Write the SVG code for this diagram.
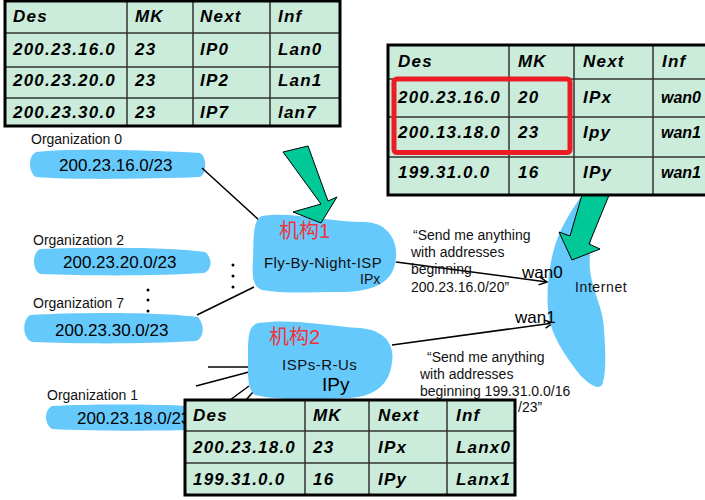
<svg xmlns="http://www.w3.org/2000/svg" width="705" height="500" viewBox="0 0 705 500">
<style>
.blob{fill:#66c9fb;stroke:none}
.cell{fill:#cbecda;stroke:none}
.grid{stroke:#333;stroke-width:1.5;fill:none}
.frame{fill:none;stroke:#000;stroke-width:3}
.tt{font-family:"Liberation Sans",Arial,sans-serif;font-weight:bold;font-style:italic;font-size:17px;letter-spacing:1.2px;fill:#000}
.tn{letter-spacing:0;font-size:16px}
.lbl{font-family:"Liberation Sans",Arial,sans-serif;font-size:14px;fill:#111}
.net{font-family:"Liberation Sans",Arial,sans-serif;font-size:17px;fill:#000}
.cn{font-family:"Liberation Sans","Noto Sans CJK SC",sans-serif;font-size:20px;fill:#f0333a}
.ln{stroke:#000;stroke-width:1.5;fill:none}
.green{fill:#00c896;stroke:#000;stroke-width:1}
</style>
<defs>
<marker id="open" markerWidth="10" markerHeight="10" refX="9" refY="5" orient="auto" markerUnits="userSpaceOnUse">
<path d="M1,1 L9,5 L1,9" fill="none" stroke="#000" stroke-width="1.5"/>
</marker>
</defs>

<g id="org0">
<path class="blob" d="M36,152 C70,148 150,150 200,153 C207,157 207,173 200,177 C150,179 70,180 36,177 C28,172 28,156 36,152 Z"/>
<text class="lbl" x="31" y="144">Organization 0</text>
<text class="net" x="59" y="171">200.23.16.0/23</text>
</g>
<g id="org2">
<path class="blob" d="M40,249 C90,247 170,247 205,252 C213,258 212,270 204,273 C160,276 90,276 40,274 C32,270 32,253 40,249 Z"/>
<text class="lbl" x="33" y="245">Organization 2</text>
<text class="net" x="63" y="268">200.23.20.0/23</text>
</g>
<g id="org7">
<path class="blob" d="M30,315 C80,312 160,312 198,317 C205,325 204,338 196,341 C150,344 80,344 32,342 C22,338 22,320 30,315 Z"/>
<text class="lbl" x="33" y="308">Organization 7</text>
<text class="net" x="55" y="336">200.23.30.0/23</text>
</g>
<g id="org1">
<path class="blob" d="M52,406 C90,404 150,404 190,406 L190,430 C150,431 90,431 52,429 C44,424 44,410 52,406 Z"/>
<text class="lbl" x="47" y="400">Organization 1</text>
<text class="net" x="77" y="424">200.23.18.0/23</text>
</g>

<g id="dots">
<circle cx="148" cy="290" r="1.5"/><circle cx="148" cy="300" r="1.5"/><circle cx="148" cy="311" r="1.5"/>
<circle cx="233" cy="265" r="1.5"/><circle cx="233" cy="276" r="1.5"/><circle cx="233" cy="287" r="1.5"/>
</g>

<g id="connectors">
<line class="ln" x1="202" y1="168" x2="260" y2="221"/>
<line class="ln" x1="197" y1="315" x2="254" y2="287"/>
<line class="ln" x1="208" y1="367" x2="248" y2="367"/>
<line class="ln" x1="196" y1="386" x2="249" y2="372"/>
<line class="ln" x1="230" y1="400" x2="249" y2="386"/>
<line class="ln" x1="246" y1="400" x2="253" y2="392"/>
<line class="ln" x1="396" y1="262" x2="547" y2="282" marker-end="url(#open)"/>
<line class="ln" x1="392" y1="345" x2="553" y2="323" marker-end="url(#open)"/>
</g>

<g id="internet">
<path class="blob" d="M585,192 L608,192 C596,215 588,240 590,270 C592,290 604,310 604,330 C606,355 606,375 602,385 C598,390 590,385 580,375 C565,355 550,335 548,310 C546,285 550,255 560,232 C568,215 578,200 585,192 Z"/>
<polygon class="green" points="584,188 612,188 589,244 600,249 572,260 559,232 570,236"/>
<text class="lbl" x="575" y="292" style="letter-spacing:0.6px">Internet</text>
<text class="net" x="522" y="278">wan0</text>
<text class="net" x="515" y="323">wan1</text>
</g>

<g id="flybynight">
<path class="blob" d="M262,216 C290,211 330,222 365,222 C385,222 398,238 396,258 C394,282 375,292 340,292 C310,292 285,294 262,290 C252,286 252,275 253,260 C254,240 252,220 262,216 Z"/>
<polygon class="green" points="283,152 308,146 328,201 337,197 321,223 293,212 321,204"/>
<text class="cn" x="279" y="238">机构1</text>
<text class="lbl" x="264" y="268" style="font-size:15px;letter-spacing:0.4px">Fly-By-Night-ISP</text>
<text class="lbl" x="360" y="284">IPx</text>
</g>

<g id="ispsrus">
<path class="blob" d="M258,323 C290,318 330,326 360,328 C385,330 395,345 392,362 C390,382 378,396 350,398 C310,400 275,400 255,395 C247,390 248,375 248,355 C248,338 248,326 258,323 Z"/>
<text class="cn" x="269" y="344">机构2</text>
<text class="lbl" x="282" y="370" style="font-size:15px;letter-spacing:0.5px">ISPs-R-Us</text>
<text class="net" x="322" y="391" style="font-size:19px">IPy</text>
</g>

<g id="msg1">
<text class="lbl" x="413" y="240">“Send me anything</text>
<text class="lbl" x="411" y="257">with addresses</text>
<text class="lbl" x="411" y="274">beginning</text>
<text class="lbl" x="411" y="292">200.23.16.0/20”</text>
</g>
<g id="msg2">
<text class="lbl" x="427" y="362">“Send me anything</text>
<text class="lbl" x="420" y="379">with addresses</text>
<text class="lbl" x="420" y="396">beginning 199.31.0.0/16</text>
<text class="lbl" x="518" y="412">/23”</text>
</g>

<g id="table1">
<rect class="cell" x="5" y="1" width="335" height="125"/>
<path class="grid" d="M5,33 H340 M5,67 H340 M5,98 H340 M127,1 V126 M193,1 V126 M270,1 V126"/>
<rect class="frame" x="5" y="1" width="335" height="125"/>
<text class="tt" x="13" y="22">Des</text><text class="tt" x="135" y="22">MK</text><text class="tt" x="200" y="22">Next</text><text class="tt" x="278" y="22">Inf</text>
<text class="tt" x="13" y="55">200.23.16.0</text><text class="tt" x="135" y="55">23</text><text class="tt" x="200" y="55">IP0</text><text class="tt" x="278" y="55">Lan0</text>
<text class="tt" x="13" y="86">200.23.20.0</text><text class="tt" x="135" y="86">23</text><text class="tt" x="200" y="86">IP2</text><text class="tt" x="278" y="86">Lan1</text>
<text class="tt" x="13" y="118">200.23.30.0</text><text class="tt" x="135" y="118">23</text><text class="tt" x="200" y="118">IP7</text><text class="tt" x="278" y="118">lan7</text>
</g>

<g id="table2">
<rect class="cell" x="388" y="45" width="330" height="150"/>
<path class="grid" d="M388,79 H718 M388,117 H718 M388,157 H718 M509,45 V195 M574,45 V195 M653,45 V195"/>
<rect class="frame" x="388" y="45" width="330" height="150"/>
<text class="tt" x="398" y="67">Des</text><text class="tt" x="518" y="67">MK</text><text class="tt" x="583" y="67">Next</text><text class="tt" x="662" y="67">Inf</text>
<text class="tt" x="398" y="103">200.23.16.0</text><text class="tt" x="518" y="103">20</text><text class="tt" x="583" y="103">IPx</text><text class="tt tn" x="661" y="103">wan0</text>
<text class="tt" x="398" y="138">200.13.18.0</text><text class="tt" x="518" y="138">23</text><text class="tt" x="583" y="138">Ipy</text><text class="tt tn" x="661" y="138">wan1</text>
<text class="tt" x="398" y="178">199.31.0.0</text><text class="tt" x="518" y="178">16</text><text class="tt" x="583" y="178">IPy</text><text class="tt tn" x="661" y="178">wan1</text>
<rect x="394" y="79" width="176" height="73.5" rx="3" fill="none" stroke="#ec1c24" stroke-width="5"/>
</g>

<g id="table3">
<rect class="cell" x="185" y="400" width="330" height="95"/>
<path class="grid" d="M185,431 H515 M185,463 H515 M305,400 V495 M369,400 V495 M447,400 V495"/>
<rect class="frame" x="185" y="400" width="330" height="95"/>
<text class="tt" x="193" y="421">Des</text><text class="tt" x="313" y="421">MK</text><text class="tt" x="378" y="421">Next</text><text class="tt" x="456" y="421">Inf</text>
<text class="tt" x="193" y="453">200.23.18.0</text><text class="tt" x="313" y="453">23</text><text class="tt" x="378" y="453">IPx</text><text class="tt" x="456" y="453">Lanx0</text>
<text class="tt" x="193" y="485">199.31.0.0</text><text class="tt" x="313" y="485">16</text><text class="tt" x="378" y="485">IPy</text><text class="tt" x="456" y="485">Lanx1</text>
</g>
</svg>
